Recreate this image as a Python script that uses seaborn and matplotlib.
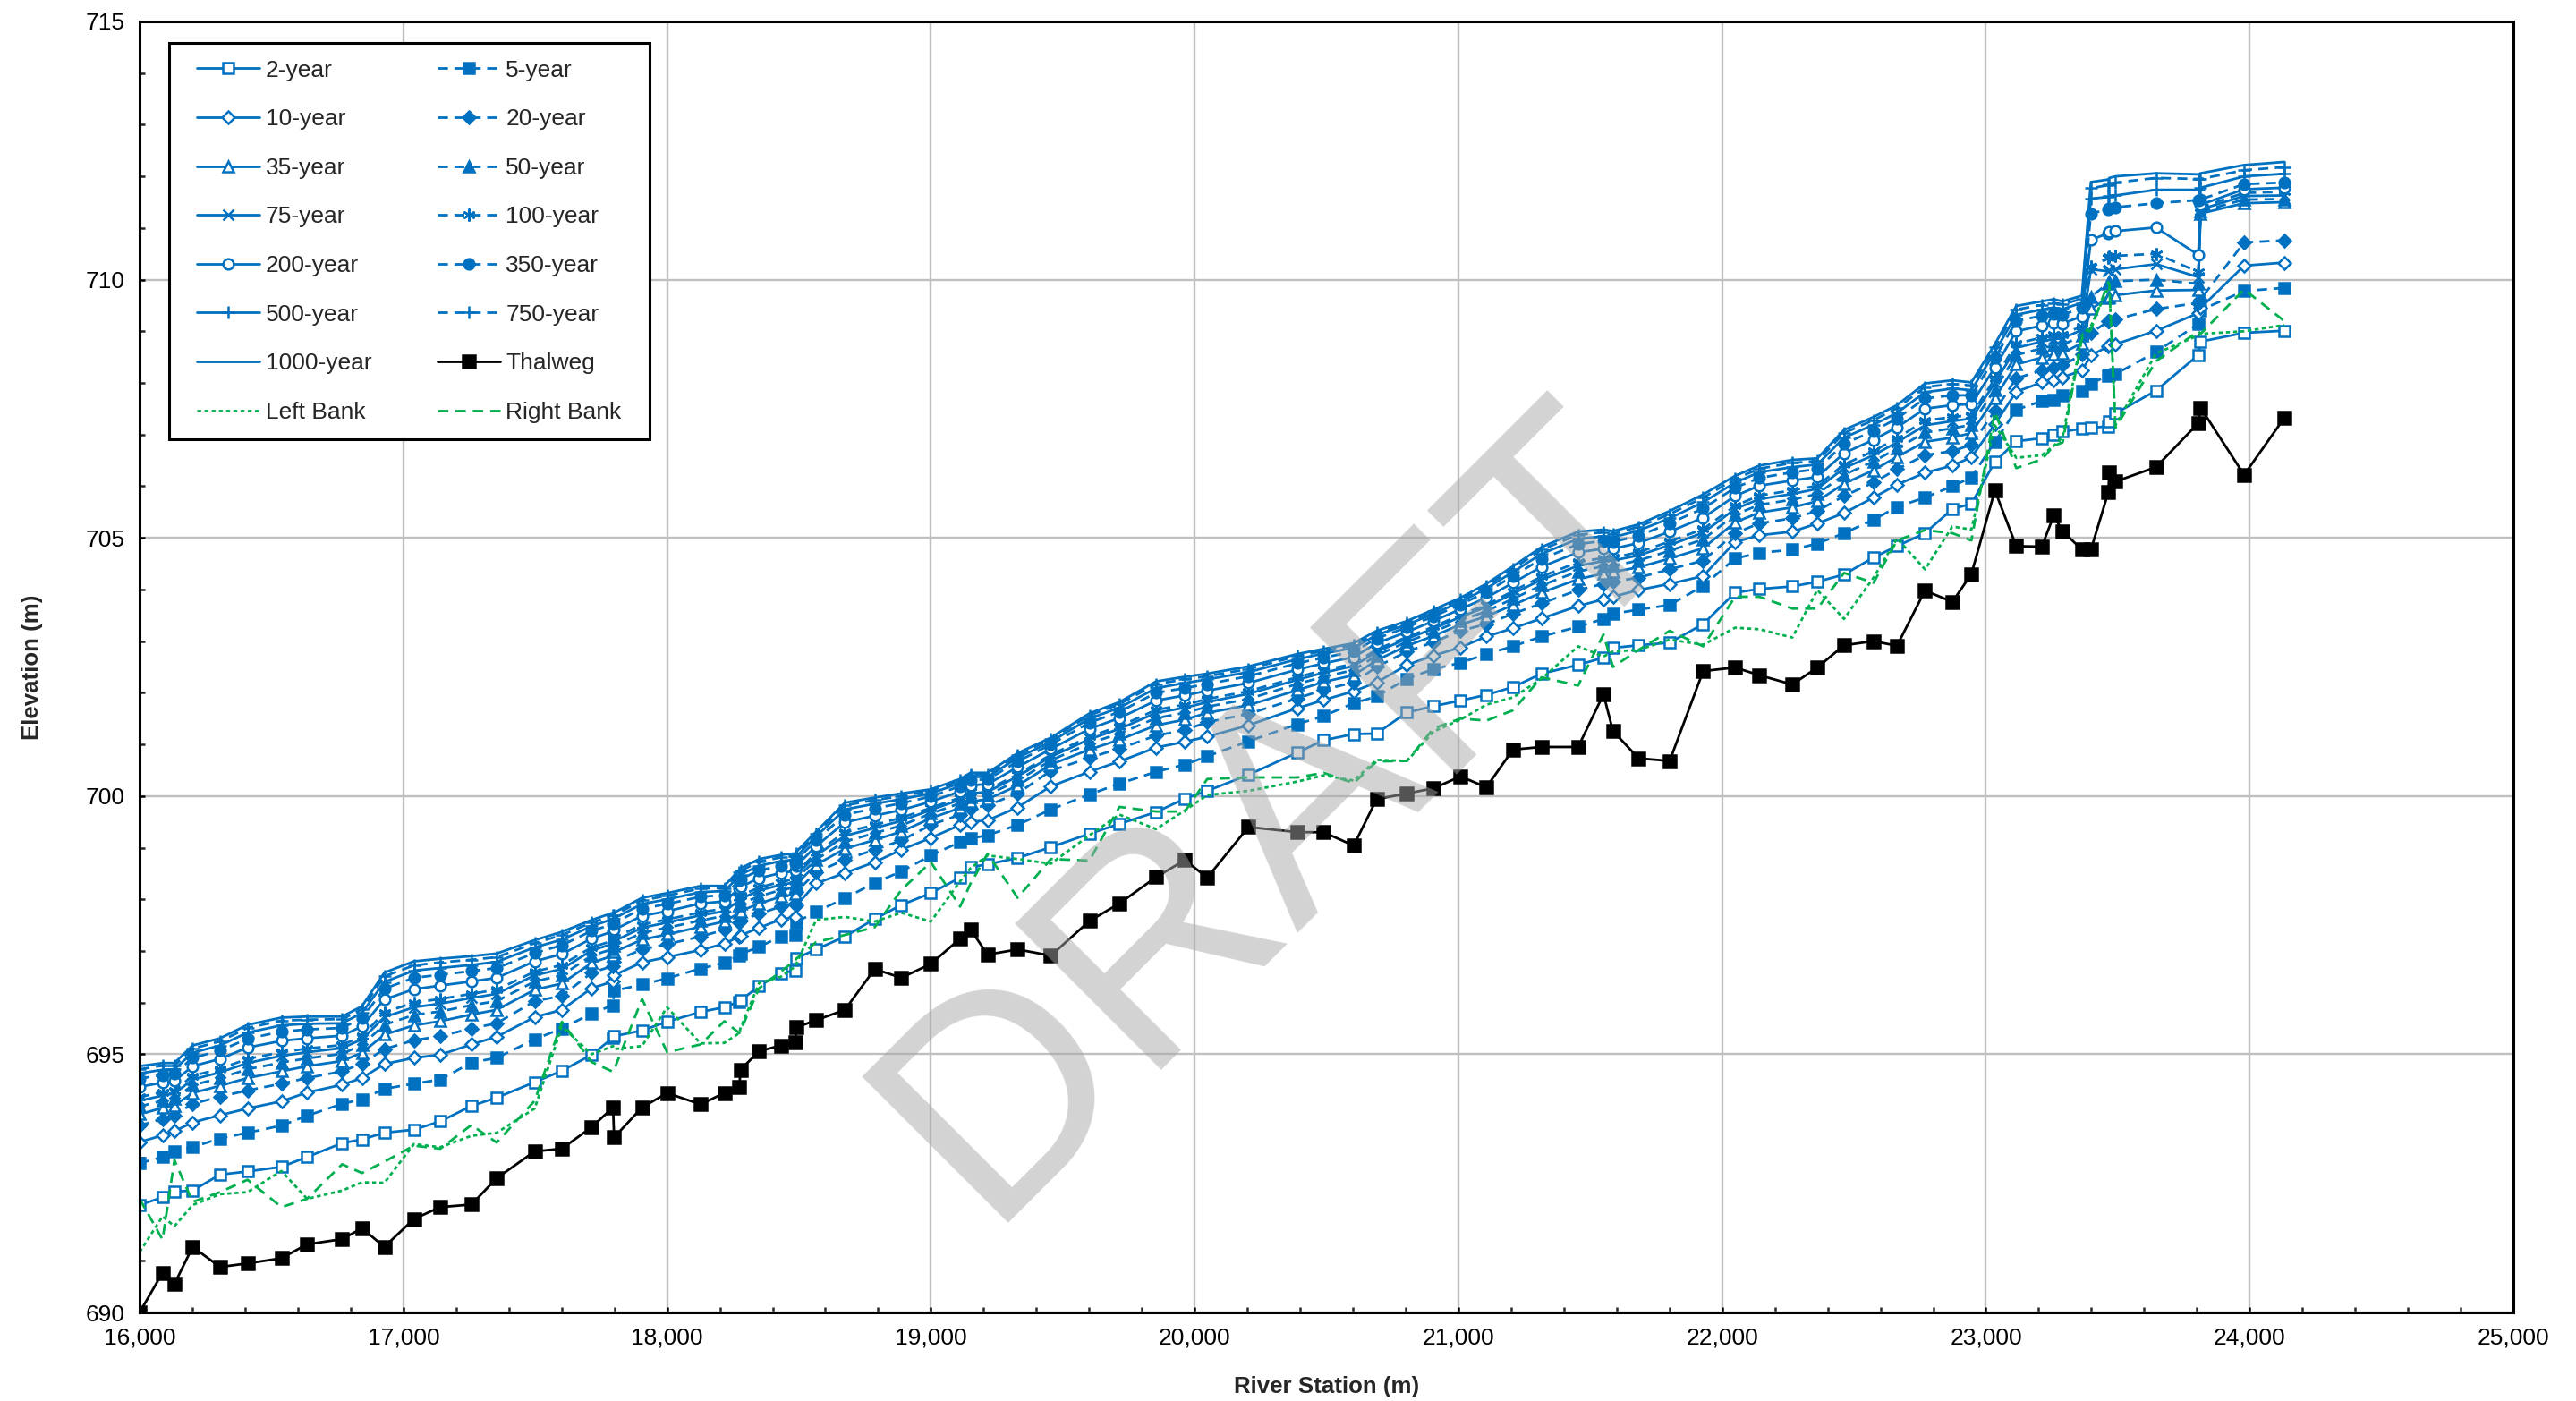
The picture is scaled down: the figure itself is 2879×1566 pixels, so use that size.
import matplotlib
matplotlib.use("Agg")
import matplotlib.pyplot as plt
import seaborn as sns
import pandas as pd
from matplotlib.patches import Rectangle
from matplotlib.ticker import MultipleLocator, FuncFormatter

sns.set_theme(style="white")
plt.rcParams['font.family'] = ['Liberation Sans', 'DejaVu Sans']

# River stations (m)
station = [
    16000, 16087, 16132, 16201, 16305, 16409, 16538, 16635, 16768, 16843,
    16928, 17040, 17140, 17258, 17354, 17498, 17601, 17714, 17795, 17799,
    17905, 18000, 18127, 18217, 18274, 18278, 18349, 18431, 18486, 18490,
    18565, 18674, 18787, 18888, 19000, 19111, 19150, 19215, 19329, 19455,
    19601, 19715, 19854, 19963, 20048, 20204, 20389, 20489, 20603, 20690,
    20805, 20906, 21008, 21106, 21207, 21315, 21454, 21550, 21586, 21683,
    21801, 21928, 22049, 22141, 22266, 22361, 22462, 22574, 22663, 22769,
    22873, 22945, 23034, 23115, 23212, 23257, 23291, 23364, 23398, 23464,
    23468, 23491, 23645, 23805, 23814, 23979, 24131]

thalweg = [
    690.00, 690.77, 690.55, 691.27, 690.88, 690.95, 691.05, 691.32, 691.42, 691.63,
    691.27, 691.81, 692.04, 692.09, 692.60, 693.12, 693.17, 693.59, 693.97, 693.39,
    693.97, 694.25, 694.03, 694.25, 694.37, 694.70, 695.06, 695.17, 695.24, 695.52,
    695.66, 695.86, 696.65, 696.48, 696.75, 697.24, 697.42, 696.93, 697.03, 696.91,
    697.58, 697.92, 698.43, 698.76, 698.42, 699.40, 699.30, 699.30, 699.04, 699.94,
    700.05, 700.15, 700.38, 700.17, 700.90, 700.95, 700.95, 701.97, 701.26, 700.73,
    700.68, 702.42, 702.49, 702.34, 702.16, 702.49, 702.92, 703.00, 702.91, 703.98,
    703.76, 704.30, 705.92, 704.84, 704.83, 705.43, 705.13, 704.77, 704.77, 705.88,
    706.27, 706.09, 706.37, 707.22, 707.52, 706.22, 707.32]

left_bank = [
    691.17, 691.86, 691.67, 692.08, 692.29, 692.33, 692.74, 692.20, 692.36, 692.52,
    692.51, 693.26, 693.20, 693.42, 693.48, 693.95, 695.54, 695.00, 695.16, 695.10,
    695.16, 695.91, 695.21, 695.22, 695.41, 695.50, 696.38, 696.50, 696.70, 696.75,
    697.60, 697.66, 697.57, 697.74, 697.57, 698.35, 698.60, 698.85, 698.78, 698.69,
    699.24, 699.64, 699.36, 699.72, 700.02, 700.10, 700.28, 700.40, 700.30, 700.70,
    700.68, 701.25, 701.48, 701.77, 701.91, 702.27, 702.90, 702.70, 702.80, 702.83,
    703.03, 702.93, 703.26, 703.23, 703.07, 703.99, 703.43, 704.23, 704.99, 704.39,
    705.22, 705.16, 707.18, 706.55, 706.60, 706.78, 706.95, 708.92, 709.10, 709.84,
    709.86, 707.18, 708.57, 708.92, 708.95, 709.00, 709.12]

right_bank = [
    692.20, 691.41, 692.95, 692.14, 692.33, 692.57, 692.04, 692.20, 692.87, 692.70,
    692.92, 693.23, 693.17, 693.63, 693.29, 694.10, 695.63, 694.85, 694.66, 694.70,
    696.07, 695.04, 695.19, 695.64, 695.41, 695.45, 696.28, 696.60, 696.82, 696.85,
    697.17, 697.31, 697.46, 698.18, 698.72, 697.86, 698.30, 698.88, 698.03, 698.78,
    698.75, 699.79, 699.70, 699.70, 700.33, 700.36, 700.36, 700.45, 700.25, 700.67,
    700.68, 701.31, 701.50, 701.46, 701.66, 702.30, 702.14, 703.13, 702.50, 702.83,
    703.20, 702.90, 703.86, 703.86, 703.63, 703.63, 704.32, 704.13, 704.95, 705.15,
    705.09, 704.95, 707.44, 706.35, 706.52, 706.78, 706.85, 708.86, 709.03, 709.95,
    709.90, 707.13, 708.42, 709.00, 708.95, 709.81, 709.20]

# Water surface elevations (m) by return period
wse_2yr = [
    692.08, 692.23, 692.34, 692.36, 692.67, 692.73, 692.82, 693.01, 693.28, 693.35,
    693.48, 693.54, 693.70, 694.00, 694.16, 694.46, 694.68, 694.99, 695.32, 695.35,
    695.46, 695.63, 695.82, 695.91, 696.02, 696.04, 696.32, 696.57, 696.62, 696.86,
    697.03, 697.28, 697.62, 697.89, 698.12, 698.42, 698.62, 698.68, 698.80, 699.01,
    699.27, 699.46, 699.69, 699.95, 700.10, 700.41, 700.84, 701.08, 701.20, 701.21,
    701.62, 701.74, 701.85, 701.96, 702.11, 702.37, 702.54, 702.68, 702.87, 702.92,
    702.97, 703.33, 703.94, 704.01, 704.06, 704.15, 704.29, 704.62, 704.84, 705.09,
    705.56, 705.66, 706.47, 706.87, 706.93, 706.99, 707.06, 707.11, 707.13, 707.16,
    707.25, 707.41, 707.85, 708.54, 708.80, 708.97, 709.01]

wse_5yr = [
    692.89, 693.01, 693.12, 693.20, 693.37, 693.48, 693.62, 693.81, 694.04, 694.13,
    694.33, 694.43, 694.51, 694.84, 694.93, 695.29, 695.50, 695.79, 695.95, 696.23,
    696.35, 696.47, 696.66, 696.77, 696.91, 696.94, 697.08, 697.28, 697.31, 697.56,
    697.76, 698.02, 698.32, 698.54, 698.85, 699.11, 699.18, 699.24, 699.44, 699.74,
    700.03, 700.24, 700.47, 700.61, 700.77, 701.06, 701.39, 701.55, 701.80, 701.93,
    702.27, 702.46, 702.58, 702.75, 702.90, 703.09, 703.28, 703.43, 703.53, 703.61,
    703.70, 704.07, 704.60, 704.71, 704.77, 704.89, 705.09, 705.35, 705.60, 705.78,
    706.00, 706.17, 706.86, 707.48, 707.65, 707.67, 707.76, 707.85, 707.99, 708.14,
    708.15, 708.17, 708.60, 709.14, 709.41, 709.78, 709.84]

wse_10yr = [
    693.30, 693.43, 693.51, 693.68, 693.82, 693.95, 694.09, 694.26, 694.41, 694.54,
    694.81, 694.93, 694.99, 695.19, 695.34, 695.72, 695.86, 696.28, 696.41, 696.53,
    696.78, 696.88, 697.02, 697.14, 697.28, 697.30, 697.45, 697.61, 697.66, 697.88,
    698.31, 698.51, 698.72, 698.96, 699.19, 699.44, 699.50, 699.53, 699.78, 700.19,
    700.47, 700.67, 700.94, 701.05, 701.15, 701.37, 701.70, 701.86, 702.03, 702.20,
    702.54, 702.72, 702.88, 703.09, 703.25, 703.44, 703.68, 703.81, 703.86, 703.99,
    704.11, 704.26, 704.92, 705.05, 705.12, 705.28, 705.48, 705.78, 706.03, 706.26,
    706.40, 706.56, 707.20, 707.83, 708.01, 708.05, 708.11, 708.24, 708.53, 708.71,
    708.72, 708.75, 709.01, 709.35, 709.45, 710.27, 710.33]

wse_20yr = [
    693.62, 693.75, 693.82, 694.04, 694.18, 694.30, 694.43, 694.54, 694.67, 694.82,
    695.10, 695.27, 695.35, 695.50, 695.60, 696.03, 696.13, 696.58, 696.71, 696.80,
    697.03, 697.13, 697.28, 697.41, 697.55, 697.58, 697.72, 697.86, 697.92, 698.15,
    698.52, 698.77, 698.96, 699.14, 699.44, 699.64, 699.76, 699.82, 700.05, 700.49,
    700.74, 700.92, 701.17, 701.28, 701.43, 701.59, 701.89, 702.06, 702.20, 702.50,
    702.80, 702.98, 703.20, 703.33, 703.53, 703.73, 703.99, 704.11, 704.15, 704.23,
    704.39, 704.56, 705.09, 705.28, 705.38, 705.52, 705.81, 706.07, 706.33, 706.60,
    706.68, 706.80, 707.46, 708.09, 708.24, 708.30, 708.34, 708.55, 708.97, 709.19,
    709.20, 709.23, 709.43, 709.55, 709.62, 710.72, 710.76]

wse_35yr = [
    693.84, 693.96, 694.01, 694.25, 694.39, 694.54, 694.67, 694.77, 694.87, 695.03,
    695.38, 695.56, 695.64, 695.77, 695.86, 696.25, 696.37, 696.77, 696.91, 696.98,
    697.22, 697.32, 697.47, 697.57, 697.74, 697.77, 697.92, 698.05, 698.10, 698.30,
    698.67, 698.98, 699.15, 699.31, 699.57, 699.77, 699.89, 699.94, 700.20, 700.61,
    700.90, 701.09, 701.37, 701.48, 701.61, 701.76, 702.05, 702.21, 702.34, 702.63,
    702.91, 703.10, 703.32, 703.48, 703.70, 703.94, 704.20, 704.31, 704.34, 704.43,
    704.60, 704.80, 705.30, 705.49, 705.59, 705.71, 706.05, 706.31, 706.57, 706.86,
    706.94, 707.03, 707.71, 708.36, 708.49, 708.55, 708.58, 708.77, 709.43, 709.65,
    709.67, 709.70, 709.79, 709.80, 711.28, 711.48, 711.50]

wse_50yr = [
    693.99, 694.10, 694.14, 694.40, 694.54, 694.71, 694.84, 694.92, 695.01, 695.18,
    695.57, 695.76, 695.83, 695.95, 696.03, 696.41, 696.53, 696.91, 697.04, 697.10,
    697.35, 697.45, 697.59, 697.68, 697.88, 697.91, 698.06, 698.18, 698.23, 698.40,
    698.77, 699.12, 699.28, 699.43, 699.66, 699.86, 699.98, 700.02, 700.30, 700.69,
    701.02, 701.21, 701.51, 701.61, 701.73, 701.88, 702.17, 702.31, 702.44, 702.72,
    702.99, 703.18, 703.40, 703.58, 703.82, 704.08, 704.35, 704.45, 704.46, 704.56,
    704.75, 704.97, 705.45, 705.64, 705.74, 705.85, 706.22, 706.48, 706.73, 707.04,
    707.12, 707.19, 707.87, 708.54, 708.67, 708.72, 708.74, 708.91, 709.67, 709.93,
    709.95, 709.97, 710.00, 709.92, 711.32, 711.55, 711.56]

wse_75yr = [
    694.10, 694.20, 694.24, 694.51, 694.65, 694.83, 694.97, 695.04, 695.12, 695.29,
    695.72, 695.91, 695.98, 696.09, 696.17, 696.53, 696.65, 697.01, 697.14, 697.19,
    697.45, 697.55, 697.69, 697.77, 697.98, 698.01, 698.17, 698.28, 698.33, 698.47,
    698.85, 699.23, 699.38, 699.52, 699.73, 699.93, 700.05, 700.08, 700.38, 700.76,
    701.10, 701.30, 701.61, 701.71, 701.82, 701.98, 702.25, 702.39, 702.52, 702.79,
    703.05, 703.24, 703.47, 703.66, 703.92, 704.19, 704.46, 704.55, 704.56, 704.66,
    704.86, 705.10, 705.56, 705.75, 705.85, 705.95, 706.35, 706.60, 706.85, 707.18,
    707.26, 707.31, 708.00, 708.68, 708.80, 708.85, 708.86, 709.03, 710.20, 710.16,
    710.18, 710.20, 710.30, 710.05, 711.36, 711.62, 711.63]

wse_100yr = [
    694.17, 694.27, 694.30, 694.58, 694.72, 694.91, 695.04, 695.11, 695.18, 695.35,
    695.81, 696.00, 696.07, 696.17, 696.25, 696.60, 696.73, 697.07, 697.20, 697.25,
    697.51, 697.61, 697.75, 697.82, 698.04, 698.07, 698.23, 698.34, 698.39, 698.52,
    698.90, 699.30, 699.44, 699.58, 699.77, 699.97, 700.09, 700.12, 700.42, 700.80,
    701.15, 701.35, 701.67, 701.77, 701.88, 702.03, 702.30, 702.44, 702.56, 702.84,
    703.08, 703.28, 703.51, 703.70, 703.97, 704.25, 704.53, 704.61, 704.62, 704.72,
    704.93, 705.17, 705.62, 705.82, 705.92, 706.01, 706.42, 706.68, 706.93, 707.27,
    707.34, 707.38, 708.08, 708.76, 708.88, 708.93, 708.94, 709.10, 710.26, 710.42,
    710.44, 710.46, 710.50, 710.15, 711.40, 711.68, 711.70]

wse_200yr = [
    694.37, 694.45, 694.48, 694.77, 694.91, 695.13, 695.26, 695.31, 695.36, 695.54,
    696.06, 696.26, 696.33, 696.41, 696.48, 696.80, 696.94, 697.24, 697.38, 697.41,
    697.68, 697.77, 697.92, 697.96, 698.21, 698.24, 698.41, 698.51, 698.55, 698.65,
    699.03, 699.49, 699.62, 699.73, 699.89, 700.09, 700.21, 700.23, 700.56, 700.91,
    701.30, 701.51, 701.85, 701.95, 702.04, 702.19, 702.45, 702.57, 702.69, 702.96,
    703.18, 703.39, 703.62, 703.84, 704.13, 704.44, 704.72, 704.79, 704.79, 704.90,
    705.12, 705.39, 705.81, 706.01, 706.11, 706.18, 706.64, 706.90, 707.14, 707.50,
    707.57, 707.59, 708.30, 709.00, 709.11, 709.16, 709.15, 709.29, 710.77, 710.90,
    710.92, 710.94, 711.01, 710.48, 711.45, 711.75, 711.78]

wse_350yr = [
    694.53, 694.60, 694.62, 694.93, 695.07, 695.30, 695.44, 695.48, 695.51, 695.70,
    696.27, 696.48, 696.54, 696.61, 696.67, 696.96, 697.11, 697.39, 697.52, 697.54,
    697.82, 697.91, 698.05, 698.08, 698.36, 698.39, 698.56, 698.65, 698.69, 698.76,
    699.14, 699.64, 699.76, 699.86, 699.99, 700.19, 700.31, 700.32, 700.67, 701.00,
    701.42, 701.63, 702.00, 702.09, 702.17, 702.32, 702.57, 702.68, 702.80, 703.05,
    703.27, 703.48, 703.71, 703.95, 704.26, 704.59, 704.88, 704.94, 704.92, 705.04,
    705.28, 705.57, 705.97, 706.16, 706.27, 706.33, 706.82, 707.07, 707.31, 707.70,
    707.76, 707.76, 708.48, 709.20, 709.30, 709.34, 709.32, 709.45, 711.28, 711.36,
    711.38, 711.40, 711.48, 711.54, 711.55, 711.85, 711.88]

wse_500yr = [
    694.63, 694.70, 694.71, 695.03, 695.17, 695.42, 695.56, 695.59, 695.60, 695.80,
    696.40, 696.62, 696.67, 696.73, 696.79, 697.07, 697.22, 697.48, 697.62, 697.63,
    697.91, 698.00, 698.14, 698.16, 698.45, 698.48, 698.65, 698.74, 698.77, 698.83,
    699.22, 699.74, 699.85, 699.94, 700.05, 700.25, 700.37, 700.37, 700.74, 701.05,
    701.50, 701.71, 702.09, 702.19, 702.26, 702.40, 702.65, 702.76, 702.87, 703.12,
    703.32, 703.53, 703.76, 704.02, 704.34, 704.69, 704.98, 705.03, 705.01, 705.14,
    705.38, 705.69, 706.07, 706.27, 706.37, 706.42, 706.94, 707.19, 707.42, 707.82,
    707.89, 707.86, 708.60, 709.32, 709.42, 709.46, 709.43, 709.55, 711.57, 711.60,
    711.62, 711.63, 711.74, 711.74, 711.78, 712.00, 712.05]

wse_750yr = [
    694.71, 694.78, 694.78, 695.11, 695.25, 695.51, 695.65, 695.67, 695.68, 695.87,
    696.51, 696.72, 696.78, 696.83, 696.88, 697.15, 697.31, 697.55, 697.69, 697.69,
    697.98, 698.07, 698.21, 698.22, 698.52, 698.55, 698.73, 698.81, 698.84, 698.88,
    699.27, 699.82, 699.92, 700.00, 700.10, 700.30, 700.42, 700.42, 700.79, 701.10,
    701.56, 701.78, 702.17, 702.26, 702.32, 702.46, 702.71, 702.81, 702.92, 703.17,
    703.36, 703.58, 703.81, 704.07, 704.40, 704.77, 705.06, 705.11, 705.08, 705.21,
    705.46, 705.78, 706.14, 706.34, 706.45, 706.49, 707.03, 707.28, 707.51, 707.92,
    707.98, 707.95, 708.69, 709.42, 709.51, 709.55, 709.52, 709.63, 711.77, 711.83,
    711.85, 711.88, 711.97, 711.95, 711.95, 712.12, 712.18]

wse_1000yr = [
    694.77, 694.83, 694.83, 695.17, 695.31, 695.57, 695.71, 695.73, 695.73, 695.93,
    696.58, 696.80, 696.85, 696.90, 696.95, 697.21, 697.37, 697.60, 697.74, 697.74,
    698.03, 698.12, 698.26, 698.26, 698.57, 698.60, 698.78, 698.86, 698.89, 698.92,
    699.31, 699.87, 699.97, 700.05, 700.13, 700.33, 700.45, 700.45, 700.83, 701.13,
    701.60, 701.82, 702.22, 702.31, 702.37, 702.51, 702.75, 702.85, 702.96, 703.20,
    703.39, 703.61, 703.84, 704.11, 704.45, 704.82, 705.12, 705.16, 705.13, 705.26,
    705.52, 705.84, 706.20, 706.40, 706.51, 706.54, 707.09, 707.34, 707.57, 707.99,
    708.05, 708.01, 708.75, 709.49, 709.58, 709.62, 709.58, 709.69, 711.89, 711.94,
    711.97, 712.00, 712.06, 712.04, 712.06, 712.22, 712.28]

BLUE = "#0070C0"
GREEN = "#00B050"
SOLID = "-"
DASH = (0, (4.0, 2.6))
ASTERISK = (6, 2, 0)

# name, values, color, linestyle, marker, filled, markersize, linewidth
series = [
    ("2-year", wse_2yr, BLUE, SOLID, "s", False, 4.4, 1.0),
    ("5-year", wse_5yr, BLUE, DASH, "s", True, 4.6, 1.0),
    ("10-year", wse_10yr, BLUE, SOLID, "D", False, 3.4, 1.0),
    ("20-year", wse_20yr, BLUE, DASH, "D", True, 3.4, 1.0),
    ("35-year", wse_35yr, BLUE, SOLID, "^", False, 4.0, 1.0),
    ("50-year", wse_50yr, BLUE, DASH, "^", True, 4.0, 1.0),
    ("75-year", wse_75yr, BLUE, SOLID, "x", False, 4.0, 1.0),
    ("100-year", wse_100yr, BLUE, DASH, ASTERISK, False, 5.0, 1.0),
    ("200-year", wse_200yr, BLUE, SOLID, "o", False, 4.2, 1.0),
    ("350-year", wse_350yr, BLUE, DASH, "o", True, 4.2, 1.0),
    ("500-year", wse_500yr, BLUE, SOLID, "+", False, 5.0, 1.0),
    ("750-year", wse_750yr, BLUE, DASH, "+", False, 5.0, 1.0),
    ("1000-year", wse_1000yr, BLUE, SOLID, None, False, 0, 1.0),
    ("Thalweg", thalweg, "black", SOLID, "s", True, 5.2, 1.0),
    ("Left Bank", left_bank, GREEN, (0, (1.6, 1.3)), None, False, 0, 1.0),
    ("Right Bank", right_bank, GREEN, (0, (4.2, 2.8)), None, False, 0, 1.0),
]

fig = plt.figure(figsize=(2879 / 200, 1566 / 200), dpi=200)
ax = fig.add_axes([0.0542, 0.0632, 0.9215, 0.9215])

handles = {}
for name, vals, color, ls, marker, filled, ms, lw in series:
    df = pd.DataFrame({"station": station, "elev": vals})
    kws = dict(color=color, linestyle=ls, linewidth=lw)
    if marker is not None:
        kws.update(marker=marker, markersize=ms,
                   markerfacecolor=color if filled else "white",
                   markeredgecolor=color, markeredgewidth=0.9)
        if marker in ("x", "+", ASTERISK):
            kws["markerfacecolor"] = color
    sns.lineplot(data=df, x="station", y="elev", ax=ax, estimator=None,
                 sort=False, legend=False, **kws)
    line = ax.lines[-1]
    line.set_label(name)
    handles[name] = line

ax.set_xlim(16000, 25000)
ax.set_ylim(690, 715)
ax.xaxis.set_major_locator(MultipleLocator(1000))
ax.xaxis.set_minor_locator(MultipleLocator(200))
ax.yaxis.set_major_locator(MultipleLocator(5))
ax.yaxis.set_minor_locator(MultipleLocator(1))
ax.xaxis.set_major_formatter(FuncFormatter(lambda v, p: f"{int(round(v)):,}"))
ax.yaxis.set_major_formatter(FuncFormatter(lambda v, p: f"{int(round(v))}"))

ax.set_axisbelow(True)
ax.grid(True, which="major", color="#BFBFBF", linewidth=0.85)
for sp in ax.spines.values():
    sp.set_color("black")
    sp.set_linewidth(1.1)
ax.tick_params(axis="both", which="major", direction="in", length=2.0, width=0.9,
               labelsize=9.5, colors="black", pad=6,
               bottom=True, left=True)
ax.tick_params(axis="both", which="minor", direction="in", length=2.0, width=0.9,
               bottom=True, left=True)

ax.set_xlabel("River Station (m)", fontsize=9.3, fontweight="bold", labelpad=11)
ax.set_ylabel("Elevation (m)", fontsize=9.3, fontweight="bold", labelpad=17)

# Legend: two columns inside a plain black box
order = ["2-year", "10-year", "35-year", "75-year", "200-year", "500-year",
         "1000-year", "Left Bank", "5-year", "20-year", "50-year", "100-year",
         "350-year", "750-year", "Thalweg", "Right Bank"]
box = Rectangle((0.0124, 0.6764), 0.2024, 0.3072, transform=ax.transAxes,
                facecolor="white", edgecolor="black", linewidth=1.1, zorder=4.5)
ax.add_patch(box)
leg = ax.legend([handles[n] for n in order], order, ncol=2, loc="upper left",
                bbox_to_anchor=(0.0242, 0.9705), borderaxespad=0, borderpad=0,
                fontsize=9.5, frameon=False, handlelength=2.65,
                handletextpad=0.25, columnspacing=2.78, labelspacing=1.16,
                numpoints=1)
leg.set_zorder(5)

# Semi-transparent status stamp across the plot area
ax.text(0.505, 0.344, "DRAFT", transform=ax.transAxes, fontsize=121,
        color="#A8A8A8", alpha=0.5, rotation=45, rotation_mode="anchor",
        ha="center", va="baseline", zorder=20)

fig.savefig("out.png", dpi=200)
